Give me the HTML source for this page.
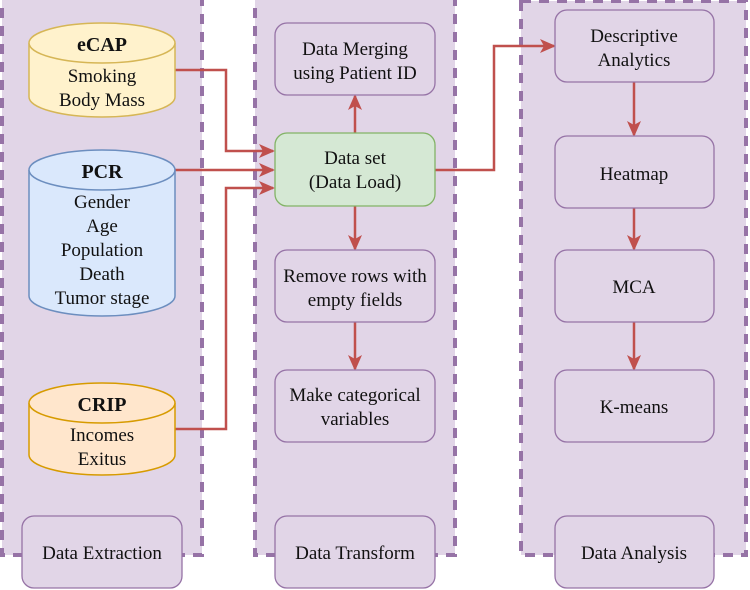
<!DOCTYPE html>
<html><head><style>body{margin:0;background:#fff}svg{display:block}text{font-family:"Liberation Serif",serif;font-size:19px;fill:#111}</style></head><body>
<svg width="750" height="590" viewBox="0 0 750 590" xmlns="http://www.w3.org/2000/svg">
<defs><marker id="a" markerWidth="16" markerHeight="14" refX="14" refY="7" orient="auto" markerUnits="userSpaceOnUse"><path d="M0,0 L16,7 L0,14 L4,7 z" fill="#c0504d"/></marker></defs>
<g fill="#e1d5e7" stroke="#9673a6" stroke-width="4" stroke-dasharray="10,8">
<rect x="2" y="-2" width="200" height="557"/>
<rect x="255" y="-2" width="200" height="557"/>
<rect x="521" y="1" width="225" height="554"/>
</g>
<g stroke="#c0504d" stroke-width="2.5" fill="none">
<polyline points="175,70 226,70 226,151 273,151" marker-end="url(#a)"/>
<polyline points="175,170 273,170" marker-end="url(#a)"/>
<polyline points="175,429 226,429 226,188 273,188" marker-end="url(#a)"/>
<polyline points="355,133 355,96" marker-end="url(#a)"/>
<polyline points="355,206 355,249" marker-end="url(#a)"/>
<polyline points="355,322 355,369" marker-end="url(#a)"/>
<polyline points="435,170 494,170 494,46 554,46" marker-end="url(#a)"/>
<polyline points="634,82 634,135" marker-end="url(#a)"/>
<polyline points="634,208 634,249" marker-end="url(#a)"/>
<polyline points="634,322 634,369" marker-end="url(#a)"/>
</g>
<g stroke-width="1.5">
<path d="M29,43 L29,97 A73,20 0 0 0 175,97 L175,43" fill="#fff2cc" stroke="#d6b656"/>
<ellipse cx="102" cy="43" rx="73" ry="20" fill="#fff2cc" stroke="#d6b656"/>
<path d="M29,170 L29,296 A73,20 0 0 0 175,296 L175,170" fill="#dae8fc" stroke="#6c8ebf"/>
<ellipse cx="102" cy="170" rx="73" ry="20" fill="#dae8fc" stroke="#6c8ebf"/>
<path d="M29,403 L29,455 A73,20 0 0 0 175,455 L175,403" fill="#ffe6cc" stroke="#d79b00"/>
<ellipse cx="102" cy="403" rx="73" ry="20" fill="#ffe6cc" stroke="#d79b00"/>
</g>
<g fill="#e1d5e7" stroke="#9673a6" stroke-width="1.3">
<rect x="275" y="23" width="160" height="72" rx="12"/>
<rect x="275" y="250" width="160" height="72" rx="12"/>
<rect x="275" y="370" width="160" height="72" rx="12"/>
<rect x="275" y="516" width="160" height="72" rx="12"/>
<rect x="22" y="516" width="160" height="72" rx="12"/>
<rect x="555" y="10" width="159" height="72" rx="12"/>
<rect x="555" y="136" width="159" height="72" rx="12"/>
<rect x="555" y="250" width="159" height="72" rx="12"/>
<rect x="555" y="370" width="159" height="72" rx="12"/>
<rect x="555" y="516" width="159" height="72" rx="12"/>
<rect x="275" y="133" width="160" height="73" rx="12" fill="#d5e8d4" stroke="#82b366"/>
</g>
<g text-anchor="middle">
<text x="102" y="51" font-weight="bold" style="font-size:20px">eCAP</text>
<text x="102" y="82">Smoking</text><text x="102" y="106">Body Mass</text>
<text x="102" y="178" font-weight="bold" style="font-size:20px">PCR</text>
<text x="102" y="208">Gender</text><text x="102" y="232">Age</text><text x="102" y="256">Population</text><text x="102" y="280">Death</text><text x="102" y="304">Tumor stage</text>
<text x="102" y="411" font-weight="bold" style="font-size:20px">CRIP</text>
<text x="102" y="441">Incomes</text><text x="102" y="465">Exitus</text>
<text x="102" y="559">Data Extraction</text>
<text x="355" y="55">Data Merging</text><text x="355" y="79">using Patient ID</text>
<text x="355" y="164">Data set</text><text x="355" y="188">(Data Load)</text>
<text x="355" y="282">Remove rows with</text><text x="355" y="306">empty fields</text>
<text x="355" y="401">Make categorical</text><text x="355" y="425">variables</text>
<text x="355" y="559">Data Transform</text>
<text x="634" y="42">Descriptive</text><text x="634" y="66">Analytics</text>
<text x="634" y="180">Heatmap</text>
<text x="634" y="293">MCA</text>
<text x="634" y="413">K-means</text>
<text x="634" y="559">Data Analysis</text>
</g>
</svg>
</body></html>
